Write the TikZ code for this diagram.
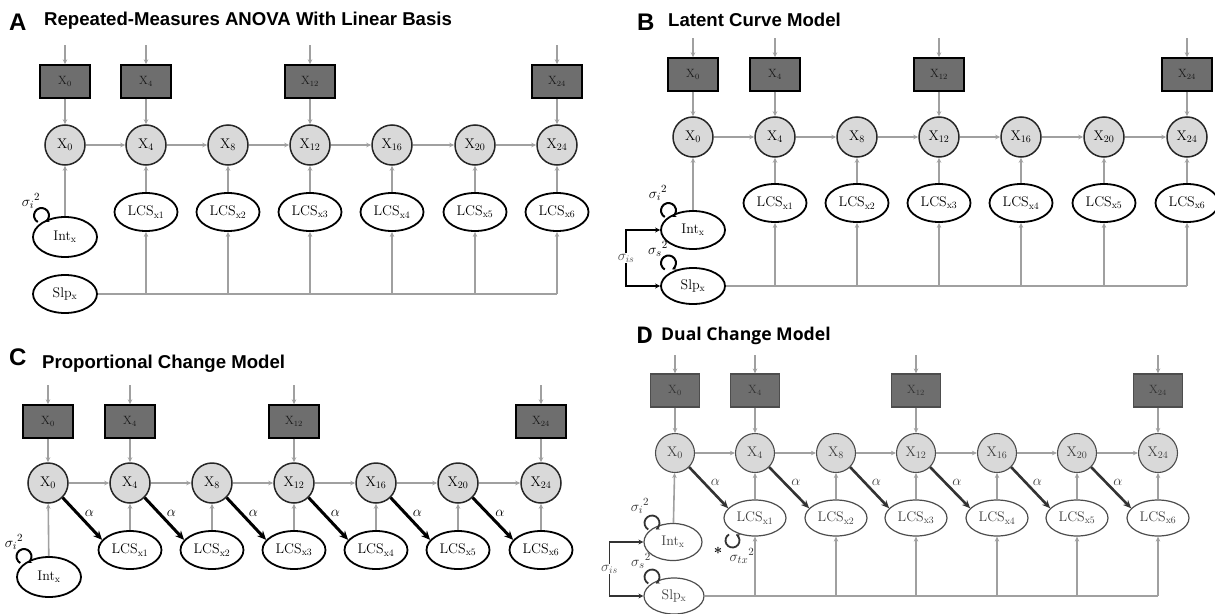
\documentclass[tikz,border=0pt]{standalone}
\usepackage{fontspec}
\newfontfamily\ttlA{Liberation Sans}
\newfontfamily\ttlDf{Open Sans}
\usetikzlibrary{arrows.meta,calc,shapes.geometric}
\definecolor{boxfill}{HTML}{6E6E6E}
\definecolor{circfill}{HTML}{D9D9D9}
\definecolor{arrgray}{HTML}{A0A0A0}
\definecolor{dgray}{HTML}{4D4D4D}
\tikzset{
 obsbox/.style={rectangle, draw=black, line width=1.4pt, fill=boxfill, minimum width=50pt, minimum height=33pt, inner sep=0pt, font=\fontsize{12}{13}\selectfont, text=black!90},
 latcirc/.style={circle, draw=black!85, line width=1.5pt, fill=circfill, minimum size=40pt, inner sep=0pt, font=\fontsize{14}{15}\selectfont},
 lcsell/.style={ellipse, draw=black, line width=1.8pt, fill=white, minimum width=63pt, minimum height=38pt, inner sep=0pt, font=\fontsize{14}{15}\selectfont},
 dobs/.style={obsbox, draw=dgray, line width=1.1pt, minimum width=49pt, text=black!80},
 dcirc/.style={latcirc, draw=dgray, line width=1.1pt, minimum size=39pt, text=black!75},
 dell/.style={lcsell, draw=dgray, line width=1.2pt, minimum width=62pt, minimum height=36pt, text=black!75},
 garr/.style={draw=arrgray, line width=1.6pt, -{Stealth[length=5pt,width=4.5pt]}},
 gline/.style={draw=arrgray, line width=1.6pt},
 alphaarr/.style={draw=black, line width=3pt, -{Stealth[length=9pt,width=8pt]}},
 alphaD/.style={draw=black!80, line width=2.6pt, -{Stealth[length=8pt,width=7pt]}},
 loopst/.style={draw=black, line width=2pt, -{Stealth[length=4pt,width=4.5pt]}},
 loopD/.style={loopst, draw=black!80, line width=1.8pt},
 covst/.style={draw=black, line width=1.8pt, {Stealth[length=5pt,width=5pt]}-{Stealth[length=5pt,width=5pt]}},
 covD/.style={covst, draw=black!80, line width=1.5pt},
 ttl/.style={anchor=base west, inner sep=0pt, font=\ttlA\bfseries\fontsize{18.6}{20}\selectfont},
 ltr/.style={anchor=base west, inner sep=0pt, font=\ttlA\bfseries\fontsize{24}{26}\selectfont},
 ttlD/.style={anchor=base west, inner sep=0pt, font=\ttlDf\bfseries\fontsize{17.6}{19}\selectfont},
 ltrD/.style={anchor=base west, inner sep=0pt, font=\ttlDf\bfseries\fontsize{23}{25}\selectfont},
 lbl/.style={inner sep=0pt, font=\fontsize{15}{16}\selectfont},
 alab/.style={inner sep=1pt, font=\fontsize{15}{16}\selectfont},
}
\begin{document}
\begin{tikzpicture}[x=1pt,y=1pt]
\useasboundingbox (0,0) rectangle (1215,-613);

% ================= Panel A =================
\node[ltr] (tA) at (9,-30) {A};
\node[ttl] (ttA) at (44,-25) {Repeated-Measures ANOVA With Linear Basis};
\foreach \i/\x/\tm in {0/65/0,1/146/4,2/228/8,3/310/12,4/392/16,5/475/20,6/557/24}
  \node[latcirc] (xA\i) at (\x,-145) {X$_{\tm}$};
\foreach \i/\x/\tm in {0/65/0,1/146/4,3/310/12,6/557/24} {
  \node[obsbox] (bA\i) at (\x,-81.5) {X$_{\tm}$};
  \coordinate (inA\i) at (\x,-45);
  \draw[garr] (inA\i) -- (bA\i);
  \draw[garr] (bA\i) -- (xA\i);
}
\foreach \i in {0,...,5} {
  \pgfmathtruncatemacro{\j}{\i+1}
  \draw[garr] (xA\i) -- (xA\j);
}
\foreach \i/\x in {1/146,2/228,3/310,4/392,5/475,6/557} {
  \node[lcsell] (lA\i) at (\x,-212) {LCS$_{\mathrm{x\i}}$};
  \draw[garr] (lA\i) -- (xA\i);
}
\node[lcsell, minimum width=64pt, minimum height=40pt] (iA) at (65,-237) {Int$_{\mathrm{x}}$};
\node[lcsell, minimum width=64pt] (sA) at (65,-294) {Slp$_{\mathrm{x}}$};
\draw[garr] (iA) -- (xA0);
\coordinate (eA) at (557,-294);
\draw[gline] (sA.east) -- (eA);
\foreach \i in {1,...,6} \draw[garr] (lA\i |- sA) -- (lA\i);
\draw[loopst] ($(iA.center)+(-27.25,15)$) arc[start angle=240,end angle=-60,radius=7.5];
\node[lbl] (sgA) at (31,-201) {$\sigma_i{}^2$};

% ================= Panel B =================
\node[ltr] (tB) at (637,-30) {B};
\node[ttl] (ttB) at (668,-27) {Latent Curve Model};
\foreach \i/\x/\tm in {0/693/0,1/775/4,2/857/8,3/939/12,4/1021/16,5/1104/20,6/1187/24}
  \node[latcirc] (xB\i) at (\x,-137) {X$_{\tm}$};
\foreach \i/\x/\tm in {0/693/0,1/775/4,3/939/12,6/1187/24} {
  \node[obsbox] (bB\i) at (\x,-74.5) {X$_{\tm}$};
  \coordinate (inB\i) at (\x,-38);
  \draw[garr] (inB\i) -- (bB\i);
  \draw[garr] (bB\i) -- (xB\i);
}
\foreach \i in {0,...,5} {
  \pgfmathtruncatemacro{\j}{\i+1}
  \draw[garr] (xB\i) -- (xB\j);
}
\foreach \i/\x in {1/775,2/857,3/939,4/1021,5/1104,6/1187} {
  \node[lcsell] (lB\i) at (\x,-203) {LCS$_{\mathrm{x\i}}$};
  \draw[garr] (lB\i) -- (xB\i);
}
\node[lcsell, minimum width=64pt] (iB) at (693,-230) {Int$_{\mathrm{x}}$};
\node[lcsell, minimum width=64pt, minimum height=36pt] (sB) at (693,-286) {Slp$_{\mathrm{x}}$};
\draw[garr] (iB) -- (xB0);
\coordinate (eB) at (1187,-286);
\draw[gline] (sB.east) -- (eB);
\foreach \i in {1,...,6} \draw[garr] (lB\i |- sB) -- (lB\i);
\draw[loopst] ($(iB.center)+(-28.25,13)$) arc[start angle=240,end angle=-60,radius=7.5];
\node[lbl] (sgBi) at (658,-193) {$\sigma_i{}^2$};
\draw[loopst] ($(sB.center)+(-28.25,16.5)$) arc[start angle=240,end angle=-60,radius=7.5];
\node[lbl] (sgBs) at (658,-249) {$\sigma_s{}^2$};
\draw[covst] (iB.west) -- ++(-34,0) |- (sB.west) node[pos=0.25, fill=white, inner sep=1pt, font=\fontsize{14}{15}\selectfont, text=black!70] {$\sigma_{is}$};

% ================= Panel C =================
\node[ltr] (tC) at (9,-365) {C};
\node[ttl] (ttC) at (42,-368) {Proportional Change Model};
\foreach \i/\x/\tm in {0/48/0,1/130/4,2/212/8,3/294/12,4/376/16,5/458/20,6/541/24}
  \node[latcirc] (xC\i) at (\x,-483) {X$_{\tm}$};
\foreach \i/\x/\tm in {0/48/0,1/130/4,3/294/12,6/541/24} {
  \node[obsbox] (bC\i) at (\x,-421.5) {X$_{\tm}$};
  \coordinate (inC\i) at (\x,-385);
  \draw[garr] (inC\i) -- (bC\i);
  \draw[garr] (bC\i) -- (xC\i);
}
\foreach \i in {0,...,5} {
  \pgfmathtruncatemacro{\j}{\i+1}
  \draw[garr] (xC\i) -- (xC\j);
}
\foreach \i/\x in {1/130,2/212,3/294,4/376,5/458,6/541} {
  \node[lcsell] (lC\i) at (\x,-550) {LCS$_{\mathrm{x\i}}$};
  \draw[garr] (lC\i) -- (xC\i);
}
\node[lcsell, minimum width=64pt, minimum height=40pt] (iC) at (49,-577) {Int$_{\mathrm{x}}$};
\draw[garr] (iC) -- (xC0);
\foreach \i in {0,...,5} {
  \pgfmathtruncatemacro{\j}{\i+1}
  \draw[alphaarr] (xC\i.-45) -- (lC\j.160) node[alab, midway, above right=0pt] {$\alpha$};
}
\draw[loopst] ($(iC.center)+(-28.75,14)$) arc[start angle=240,end angle=-60,radius=7.5];
\node[lbl] (sgC) at (14,-542) {$\sigma_i{}^2$};

% ================= Panel D =================
\node[ltrD] (tD) at (636,-343) {D};
\node[ttlD] (ttD) at (661,-340) {Dual Change Model};
\foreach \i/\x/\tm in {0/675/0,1/755/4,2/836/8,3/916/12,4/997/16,5/1077/20,6/1158/24}
  \node[dcirc] (xD\i) at (\x,-453) {X$_{\tm}$};
\foreach \i/\x/\tm in {0/675/0,1/755/4,3/916/12,6/1158/24} {
  \node[dobs] (bD\i) at (\x,-390.5) {X$_{\tm}$};
  \coordinate (inD\i) at (\x,-355);
  \draw[garr] (inD\i) -- (bD\i);
  \draw[garr] (bD\i) -- (xD\i);
}
\foreach \i in {0,...,5} {
  \pgfmathtruncatemacro{\j}{\i+1}
  \draw[garr] (xD\i) -- (xD\j);
}
\foreach \i/\x in {1/755,2/836,3/916,4/997,5/1077,6/1158} {
  \node[dell] (lD\i) at (\x,-518) {LCS$_{\mathrm{x\i}}$};
  \draw[garr] (lD\i) -- (xD\i);
}
\node[dell, minimum width=58pt, minimum height=37pt] (iD) at (673,-542) {Int$_{\mathrm{x}}$};
\node[dell, minimum width=60pt] (sD) at (674,-596) {Slp$_{\mathrm{x}}$};
\draw[garr] (iD) -- (xD0);
\coordinate (eD) at (1158,-596);
\draw[gline] (sD.east) -- (eD);
\foreach \i in {1,...,6} \draw[garr] (lD\i |- sD) -- (lD\i);
\foreach \i in {0,...,5} {
  \pgfmathtruncatemacro{\j}{\i+1}
  \draw[alphaD] (xD\i.-45) -- (lD\j.160) node[alab, midway, above right=0pt, text=black!75] {$\alpha$};
}
\draw[loopD] ($(iD.center)+(-24.75,12.5)$) arc[start angle=240,end angle=-60,radius=7.5];
\node[lbl, text=black!80] (sgDi) at (640,-506) {$\sigma_i{}^2$};
\draw[loopD] ($(sD.center)+(-25.75,12.5)$) arc[start angle=240,end angle=-60,radius=7.5];
\node[lbl, text=black!80] (sgDs) at (641,-561) {$\sigma_s{}^2$};
\draw[covD] (iD.west) -- ++(-34,0) |- (sD.west) node[pos=0.25, fill=white, inner sep=1pt, font=\fontsize{14}{15}\selectfont, text=black!70] {$\sigma_{is}$};
\draw[loopD] ($(lD1.center)+(-26,-16.44)$) arc[start angle=120,end angle=420,radius=7];
\node[lbl, text=black!80] (sgDtx) at (742,-556) {$\sigma_{tx}{}^2$};
\node[lbl, font=\bfseries\fontsize{15}{16}\selectfont] (astD) at (718,-553) {*};
\end{tikzpicture}
\end{document}
